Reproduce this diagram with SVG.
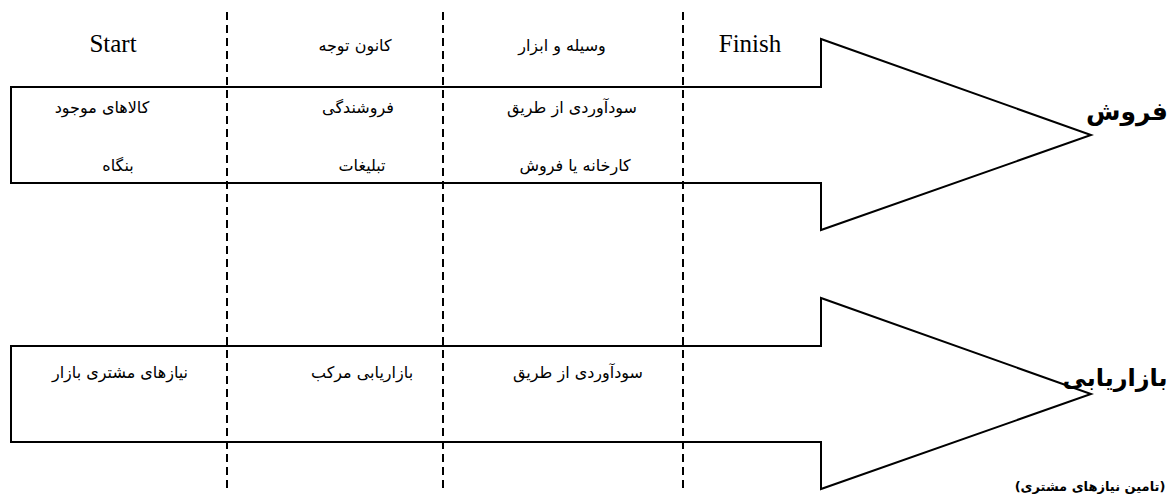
<svg xmlns="http://www.w3.org/2000/svg" width="1173" height="504" viewBox="0 0 1173 504">
<style>
.arrow{fill:none;stroke:#000;stroke-width:2}
.dash{stroke:#000;stroke-width:2;stroke-dasharray:8 5;fill:none}
.lat{font-family:"Liberation Serif","Times New Roman",serif;font-size:25px;fill:#000;text-anchor:middle}
.fa{font-family:"DejaVu Sans",sans-serif;font-size:16px;fill:#000;text-anchor:middle;direction:rtl}
.fab{font-family:"DejaVu Sans",sans-serif;font-weight:bold;fill:#000;text-anchor:middle;direction:rtl}
</style>
<rect width="1173" height="504" fill="#fff"/>
<g id="connectors">
<line class="dash" x1="227" y1="12" x2="227" y2="491"/>
<line class="dash" x1="443" y1="12" x2="443" y2="491"/>
<line class="dash" x1="683" y1="12" x2="683" y2="491"/>
</g>
<g id="arrow-sales">
<path class="arrow" d="M11,87 H821 V39 L1091,135 L821,230 V183 H11 Z"/>
<text class="fab" x="1127" y="120" font-size="25">فروش</text>
</g>
<g id="arrow-marketing">
<path class="arrow" d="M11,346 H821 V298 L1091,394 L821,489 V442 H11 Z"/>
<text class="fab" x="1115" y="386" font-size="24">بازاریابی</text>
<text class="fab" x="1090" y="491" font-size="13">(تامین نیازهای مشتری)</text>
</g>
<g id="headers">
<text class="lat" x="113" y="52">Start</text>
<text class="fa" x="355" y="51">کانون توجه</text>
<text class="fa" x="562" y="51">وسیله و ابزار</text>
<text class="lat" x="750" y="52">Finish</text>
</g>
<g id="sales-cells">
<text class="fa" x="102" y="113">کالاهای موجود</text>
<text class="fa" x="118" y="171">بنگاه</text>
<text class="fa" x="358" y="113">فروشندگی</text>
<text class="fa" x="362" y="171">تبلیغات</text>
<text class="fa" x="572" y="113">سودآوردی از طریق</text>
<text class="fa" x="575" y="171">کارخانه یا فروش</text>
</g>
<g id="marketing-cells">
<text class="fa" x="120" y="378">نیازهای مشتری بازار</text>
<text class="fa" x="362" y="378">بازاریابی مرکب</text>
<text class="fa" x="578" y="378">سودآوردی از طریق</text>
</g>
</svg>
